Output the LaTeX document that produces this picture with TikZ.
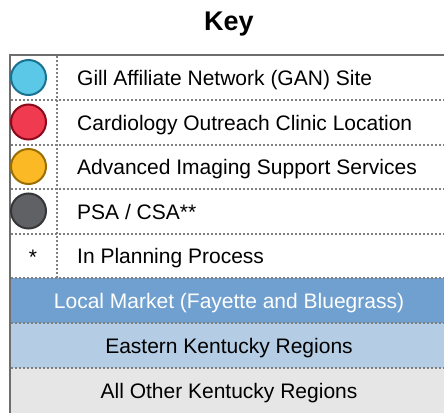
\documentclass[tikz,border=0pt]{standalone}
\usepackage{fontspec}
\setmainfont{Liberation Sans}
\definecolor{gline}{HTML}{7F7F7F}
\definecolor{bordc}{HTML}{6E6E6E}
\definecolor{localc}{HTML}{6FA0CF}
\definecolor{eastc}{HTML}{B4CCE4}
\definecolor{otherc}{HTML}{E6E6E6}
\definecolor{ganfill}{HTML}{5AC8E6}
\definecolor{gandraw}{HTML}{1A7290}
\definecolor{cardfill}{HTML}{F03A50}
\definecolor{carddraw}{HTML}{8A0A1C}
\definecolor{imgfill}{HTML}{FBB926}
\definecolor{imgdraw}{HTML}{9A6E00}
\definecolor{psafill}{HTML}{606164}
\definecolor{psadraw}{HTML}{363638}
\begin{document}
\begin{tikzpicture}[x=1pt,y=-1pt,
  dotline/.style={draw=gline,line width=2pt,dash pattern=on 2pt off 2pt},
  dot/.style={circle,minimum size=35pt,inner sep=0pt,line width=2pt},
  lbl/.style={anchor=base west,inner sep=0pt,font=\fontsize{21}{25}\selectfont},
  clbl/.style={anchor=base,inner sep=0pt,font=\fontsize{21}{25}\selectfont}]
\useasboundingbox (0,0) rectangle (444,412);
\begin{scope}
\clip (0,0) rectangle (444,412);
\fill[localc] (10,278) rectangle (448,323);
\fill[eastc] (10,323) rectangle (448,368);
\fill[otherc] (10,368) rectangle (448,414);
\foreach \yy in {100,144.5,189,233.5,278,323,368}
  \draw[dotline] (11,\yy) -- (448,\yy);
\draw[dotline] (57,56) -- (57,278);
\draw[draw=bordc,line width=2.5pt] (10,414) -- (10,55) -- (448,55);
\end{scope}
\node[font=\fontsize{27}{30}\selectfont\bfseries] (title) at (229,24) {Key};
\node[dot,fill=ganfill,draw=gandraw] (c1) at (28.5,77.5) {};
\node[dot,fill=cardfill,draw=carddraw] (c2) at (28.5,122) {};
\node[dot,fill=imgfill,draw=imgdraw] (c3) at (28.5,166.5) {};
\node[dot,fill=psafill,draw=psadraw] (c4) at (28.5,211) {};
\node[clbl] (c5) at (33,264) {*};
\node[lbl] (t1) at (77,85.5) {Gill Affiliate Network (GAN) Site};
\node[lbl] (t2) at (77,130) {Cardiology Outreach Clinic Location};
\node[lbl] (t3) at (77,174.5) {Advanced Imaging Support Services};
\node[lbl] (t4) at (77,219) {PSA / CSA**};
\node[lbl] (t5) at (77,263.5) {In Planning Process};
\node[clbl,text=white] (t6) at (229,308) {Local Market (Fayette and Bluegrass)};
\node[clbl] (t7) at (229,353) {Eastern Kentucky Regions};
\node[clbl] (t8) at (229,398) {All Other Kentucky Regions};
\end{tikzpicture}
\end{document}
